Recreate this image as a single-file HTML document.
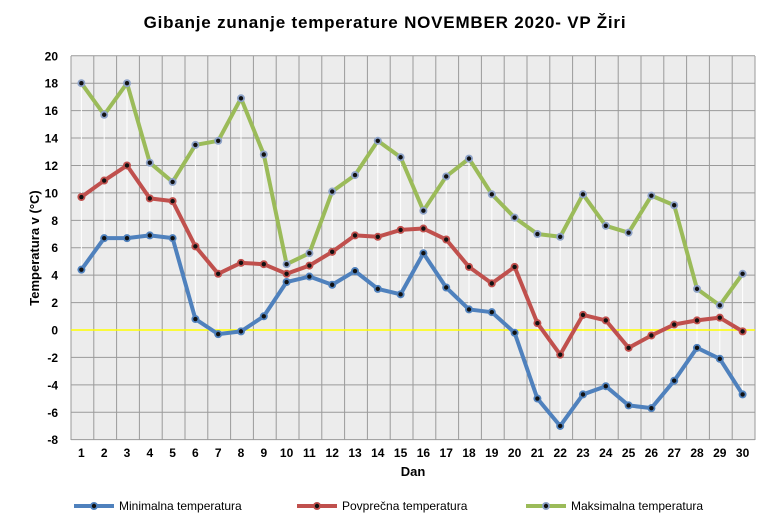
<!DOCTYPE html>
<html><head><meta charset="utf-8"><style>
body{margin:0;background:#fff;}
svg{display:block;font-family:"Liberation Sans",Arial,sans-serif;}
</style></head><body>
<svg id="c" width="770" height="532" xmlns="http://www.w3.org/2000/svg">
<rect width="770" height="532" fill="#fff"/>
<text x="385" y="28" text-anchor="middle" font-size="17" font-weight="bold" letter-spacing="0.8" fill="#000">Gibanje zunanje temperature NOVEMBER 2020- VP Žiri</text>
<rect x="71" y="56" width="684" height="384" fill="#ececec"/>
<g id="g"></g>
<text x="39" y="248" transform="rotate(-90 39 248)" text-anchor="middle" font-size="13" font-weight="bold">Temperatura v (°C)</text>
<text x="413" y="476" text-anchor="middle" font-size="13" font-weight="bold">Dan</text>
</svg>
<script>
const mx=[18,15.7,18,12.2,10.8,13.5,13.8,16.9,12.8,4.8,5.6,10.1,11.3,13.8,12.6,8.7,11.2,12.5,9.9,8.2,7.0,6.8,9.9,7.6,7.1,9.8,9.1,3.0,1.8,4.1];
const av=[9.7,10.9,12.0,9.6,9.4,6.1,4.1,4.9,4.8,4.1,4.7,5.7,6.9,6.8,7.3,7.4,6.6,4.6,3.4,4.6,0.5,-1.8,1.1,0.7,-1.3,-0.4,0.4,0.7,0.9,-0.1];
const mn=[4.4,6.7,6.7,6.9,6.7,0.8,-0.3,-0.1,1.0,3.5,3.9,3.3,4.3,3.0,2.6,5.6,3.1,1.5,1.3,-0.2,-5.0,-7.0,-4.7,-4.1,-5.5,-5.7,-3.7,-1.3,-2.1,-4.7];
const X=i=>70+22.8*(i+0.5), Y=v=>330-v*13.71;
let s='';
for(let v=-8;v<=20;v+=2){const y=Y(v);
 if(v!==0)s+=`<line x1="71" x2="755" y1="${y}" y2="${y}" stroke="#9a9a9a" stroke-width="1"/>`;
 s+=`<text x="58" y="${y+4.5}" text-anchor="end" font-size="12" font-weight="bold">${v}</text>`;}
for(let i=0;i<=30;i++){const x=71+22.8*i;s+=`<line x1="${x}" x2="${x}" y1="56" y2="440" stroke="#9a9a9a" stroke-width="1"/>`;}
for(let i=0;i<30;i++){s+=`<text x="${X(i)}" y="457" text-anchor="middle" font-size="12" font-weight="bold">${i+1}</text>`;
 s+=`<line x1="${X(i)}" x2="${X(i)}" y1="${Y(mx[i])}" y2="${Y(mn[i])}" stroke="#fff" stroke-width="1"/>`;}
s+=`<line x1="71" x2="755" y1="${Y(0)}" y2="${Y(0)}" stroke="#ffff00" stroke-width="1.5"/>`;
function ser(d,c,mc){let p=d.map((v,i)=>`${X(i)},${Y(v)}`).join(' ');
 let r=`<polyline points="${p}" fill="none" stroke="${c}" stroke-width="4" stroke-linejoin="round"/>`;
 d.forEach((v,i)=>{r+=`<circle cx="${X(i)}" cy="${Y(v)}" r="4" fill="${mc}"/><circle cx="${X(i)}" cy="${Y(v)}" r="2.2" fill="#111"/>`});return r;}
s+=ser(mx,'#9bbb59','#8ea3c8');
s+=ser(av,'#c0504d','#c0504d');
s+=ser(mn,'#4f81bd','#4f81bd');
function leg(x,c,mc,t){return `<line x1="${x}" x2="${x+40}" y1="506" y2="506" stroke="${c}" stroke-width="4"/><circle cx="${x+20}" cy="506" r="4" fill="${mc}"/><circle cx="${x+20}" cy="506" r="2.2" fill="#111"/><text x="${x+45}" y="510" font-size="12">${t}</text>`;}
s+=leg(74,'#4f81bd','#4f81bd','Minimalna temperatura');
s+=leg(297,'#c0504d','#c0504d','Povprečna temperatura');
s+=leg(526,'#9bbb59','#8ea3c8','Maksimalna temperatura');
document.getElementById('g').innerHTML=s;
</script>
</body></html>
